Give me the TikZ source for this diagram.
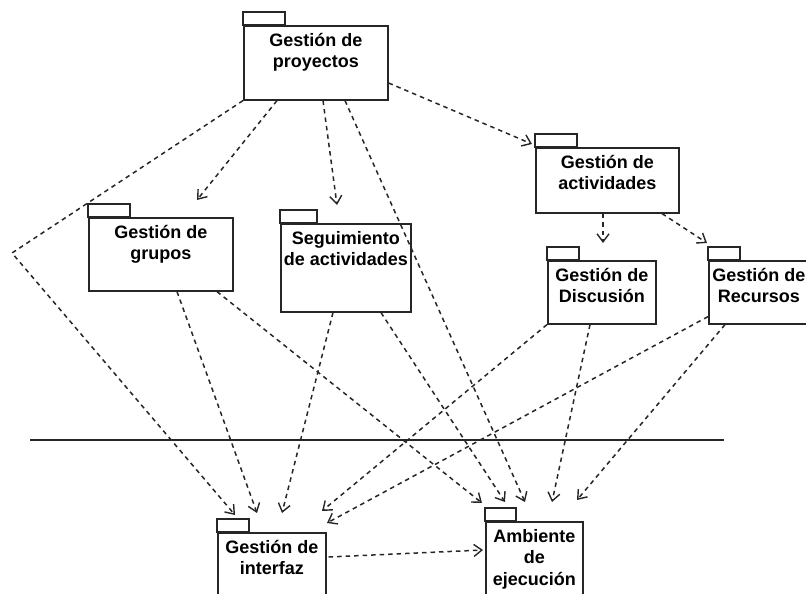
\documentclass[tikz,border=0pt]{standalone}
\usepackage{fontspec}
\setmainfont{Liberation Sans}
\usetikzlibrary{arrows.meta, calc}

\begin{document}
\begin{tikzpicture}[
    x=1pt, y=-1pt,
    pkg/.style={draw=black!85, line width=1.6pt, anchor=north west, inner sep=0pt,
      label={[pkgtext]north:{#1}}},
    pkgtext/.style={anchor=north, align=center, yshift=-8pt, inner sep=0pt,
      font=\bfseries\fontsize{18}{21.5}\selectfont},
    tabline/.style={draw=black!85, line width=1.6pt},
    dep/.style={draw=black!85, line width=1.5pt, dash pattern=on 4.5pt off 4pt,
      -{Straight Barb[length=8pt, width=12pt, line width=1.4pt]}},
    sepline/.style={draw=black!85, line width=1.6pt},
  ]
  \useasboundingbox (0,0) rectangle (806,594);
  \clip (0,0) rectangle (806,594);

  \node[pkg={Gestión de\\proyectos},     minimum width=144pt, minimum height=74pt] (proy)   at (243,25)  {};
  \node[pkg={Gestión de\\grupos},        minimum width=144pt, minimum height=73pt] (grupos) at (88,217)  {};
  \node[pkg={Seguimiento\\de actividades}, minimum width=130pt, minimum height=88pt] (segui) at (280,223) {};
  \node[pkg={Gestión de\\actividades},   minimum width=143pt, minimum height=65pt] (activ)  at (535,147) {};
  \node[pkg={Gestión de\\Discusión},     minimum width=108pt, minimum height=63pt] (discu)  at (547,260) {};
  \node[pkg={Gestión de\\Recursos},      minimum width=100pt, minimum height=63pt] (recur)  at (708,260) {};
  \node[pkg={Gestión de\\interfaz},      minimum width=108pt, minimum height=80pt] (inter)  at (217,532) {};
  \node[pkg={Ambiente\\de\\ejecución},   minimum width=97pt,  minimum height=90pt] (ambie)  at (485,521) {};

  % tabs
  \foreach \n/\w in {proy/42, grupos/42, segui/37, activ/42, discu/32, recur/32, inter/32, ambie/31}
    \draw[tabline] (\n.north west) rectangle ++(\w,-13);

  \coordinate (bend) at (12,253);

  \draw[dep] ($(proy.north east)+(0,58)$) -- ($(activ.north west)+(-3,-3)$);
  \draw[dep] ($(proy.south west)+(34,0)$) -- ($(grupos.north west)+(109,-17)$);
  \draw[dep] ($(proy.south west)+(80,0)$) -- ($(segui.north west)+(57,-18)$);
  \draw[dep] ($(proy.south west)+(102,0)$) -- ($(ambie.north west)+(40,-19)$);
  \draw[dep] (proy.south west) -- (bend) -- ($(inter.north west)+(18,-17)$);

  \draw[dep] ($(activ.south west)+(68,0)$) -- ($(discu.north west)+(56,-17)$);
  \draw[dep] ($(activ.south west)+(127,0)$) -- ($(recur.north west)+(-1,-17)$);

  \draw[dep] ($(grupos.south west)+(89,0)$) -- ($(inter.north west)+(40,-19)$);
  \draw[dep] ($(grupos.south west)+(129,0)$) -- ($(ambie.north west)+(-3,-18)$);
  \draw[dep] ($(segui.south west)+(53,0)$) -- ($(inter.north west)+(65,-19)$);
  \draw[dep] ($(segui.south west)+(101,0)$) -- ($(ambie.north west)+(20,-19)$);
  \draw[dep] (discu.south west) -- ($(inter.north west)+(105,-21)$);
  \draw[dep] ($(discu.south west)+(43,0)$) -- ($(ambie.north west)+(67,-19)$);
  \draw[dep] ($(recur.south west)+(0,-8)$) -- ($(inter.north west)+(110,-9)$);
  \draw[dep] ($(recur.south west)+(17,0)$) -- ($(ambie.north west)+(92,-21)$);

  \draw[dep] ($(inter.north east)+(2,25)$) -- ($(ambie.north west)+(-2,29)$);

  \draw[sepline] (30,440) -- (724,440);
\end{tikzpicture}
\end{document}
